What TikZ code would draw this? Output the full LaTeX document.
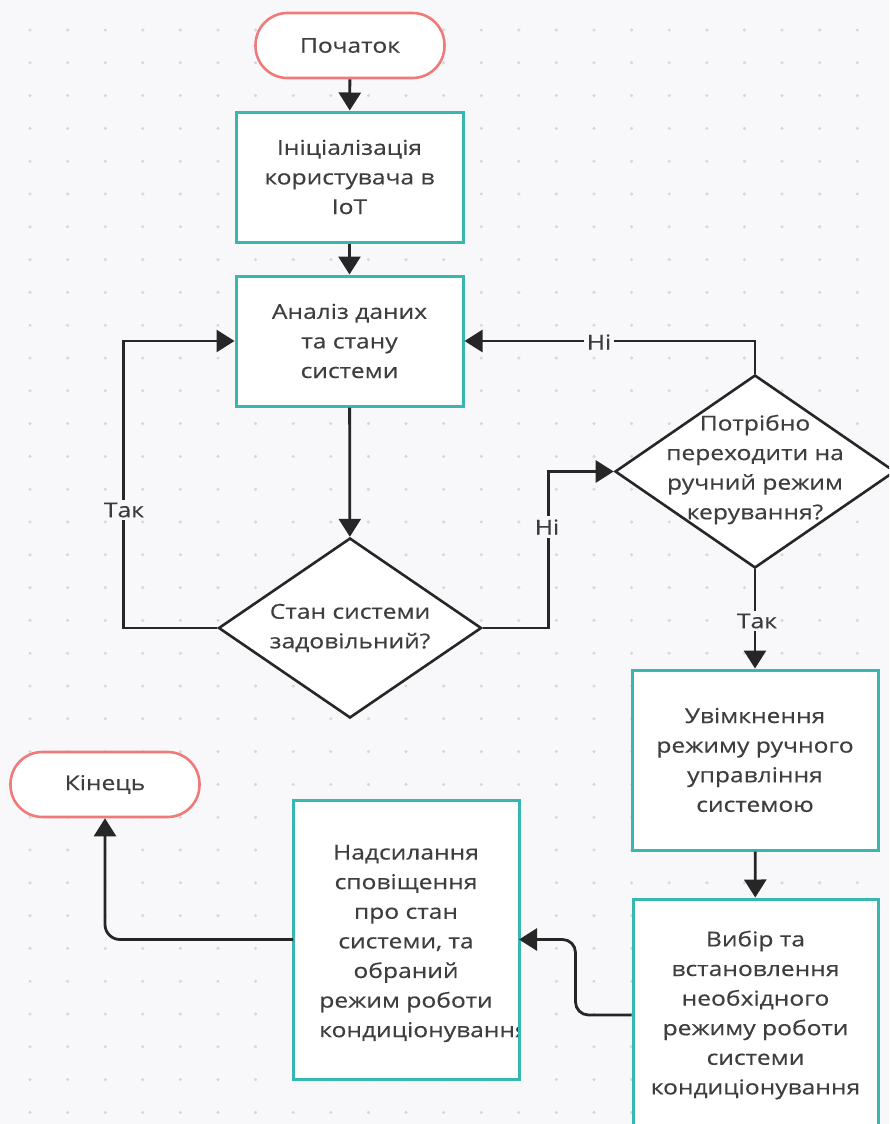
\documentclass[tikz,border=0pt]{standalone}
\usepackage{fontspec}
\setmainfont{Open Sans}[FakeStretch=1.2, FakeBold=0.35]
\usetikzlibrary{shapes.geometric,arrows.meta}
\definecolor{bgc}{RGB}{248,248,250}
\definecolor{dotc}{RGB}{214,214,219}
\definecolor{tealc}{RGB}{56,182,178}
\definecolor{termc}{RGB}{240,122,122}
\definecolor{inkc}{RGB}{38,38,38}
\definecolor{txtc}{RGB}{62,62,62}

\tikzset{
  base/.style={font=\fontsize{20.5}{29.6}\selectfont, text=txtc, align=center},
  term/.style={base, draw=termc, line width=2.6pt, fill=white, rounded corners=32pt,
    minimum width=189pt, minimum height=65pt, inner sep=0pt},
  proc/.style={base, draw=tealc, line width=3pt, fill=white, inner sep=0pt},
  decide/.style={diamond, draw=inkc, line width=2.6pt, fill=white, inner sep=0pt},
  arr/.style={draw=inkc, line width=2.8pt, -{Triangle[length=18pt,width=22pt]}},
  lbl/.style={base, text=inkc!90, fill=bgc, inner sep=3pt},
}

\begin{document}
\begin{tikzpicture}[x=1pt, y=-1pt]
  % canvas and dotted grid
  \useasboundingbox (0,0) rectangle (889,1124);
  \clip (0,0) rectangle (889,1124);
  \fill[bgc] (0,0) rectangle (889,1124);
  \foreach \i in {0,...,23} {
    \foreach \j in {0,...,33} {
      \fill[dotc] (30+37.6*\i, 30+32.8*\j) circle (1.7pt);
    }
  }

  % terminals
  \node[term] (start) at (350,45.5) {Початок};
  \node[term] (finish) at (105,784.5) {Кінець};

  % process boxes
  \node[proc, minimum width=227pt, minimum height=130pt] (b1) at (349.5,177)
    {Ініціалізація\\користувача в\\IoT};
  \node[proc, minimum width=227pt, minimum height=130pt] (b2) at (349.5,341)
    {Аналіз даних\\та стану\\системи};
  \node[proc, minimum width=246pt, minimum height=180pt] (b3) at (755,760)
    {Увімкнення\\режиму ручного\\управління\\системою};
  \node[proc, minimum width=245pt, minimum height=232pt] (b4) at (755.5,1015)
    {Вибір та\\встановлення\\необхідного\\режиму роботи\\системи\\кондиціонування};
  % the long last line runs past the box edge and is cut by it
  \node[proc, draw=none, outer sep=0pt, minimum width=226pt, minimum height=279pt] (b5) at (406,939.5) {};
  \begin{scope}
    \clip (b5.south west) rectangle (b5.north east);
    \node[base] (b5text) at ([yshift=-4pt]b5.center)
      {Надсилання\\сповіщення\\про стан\\системи, та\\обраний\\режим роботи\\\hspace*{36pt}кондиціонування};
  \end{scope}
  \draw[tealc, line width=3pt] (b5.south west) rectangle (b5.north east);

  % decisions
  \node[decide, minimum width=263pt, minimum height=180pt] (d1) at (350,628) {};
  \node[base] (d1text) at (d1.center) {Стан системи\\задовільний?};
  \node[decide, minimum width=280pt, minimum height=193pt] (d2) at (755,471.5) {};
  \node[base] (d2text) at ([yshift=2pt]d2.center) {Потрібно\\переходити на\\ручний режим\\керування?};

  % main flow
  \draw[arr] (start) -- (b1);
  \draw[arr] (b1) -- (b2);
  \draw[arr] (b2) -- (d1);
  \draw[arr] (d1.west) -- ++(-94,0) |- (b2.west);
  \node[lbl] (yes1) at (124,510) {Так};
  \draw[arr] (d1.east) -- ++(66,0) |- (d2.west);
  \node[lbl] (no1) at (547,527) {Ні};
  \draw[arr] (d2.north) |- (b2.east);
  \node[lbl] (no2) at (599,342) {Ні};
  \draw[arr] (d2.south) -- (b3.north);
  \node[lbl] (yes2) at (757,621) {Так};
  \draw[arr] (b3) -- (b4);
  \draw[arr, rounded corners=13pt] (b4.west) -- ++(-56,0) |- (b5.east);
  \draw[arr, rounded corners=15pt] (b5.west) -| (finish.south);
\end{tikzpicture}
\end{document}
